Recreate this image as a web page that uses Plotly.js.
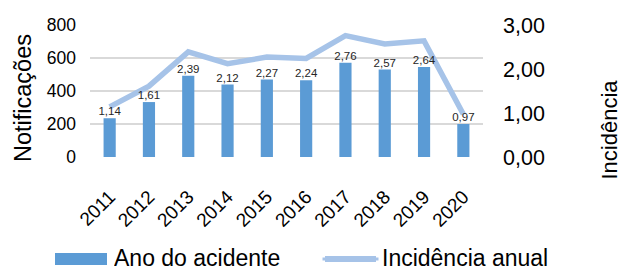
<!DOCTYPE html>
<html>
<head>
<meta charset="utf-8">
<script src="https://cdn.plot.ly/plotly-3.0.1.min.js"></script>
<style>html,body{margin:0;padding:0;background:#fff;}#chart{width:622px;height:270px;}</style>
</head>
<body>
<div id="chart"></div>
<script>
var years = ['2011','2012','2013','2014','2015','2016','2017','2018','2019','2020'];
var notificacoes = [235, 333, 493, 439, 469, 465, 571, 531, 545, 200];
var incidencia = [1.14, 1.61, 2.39, 2.12, 2.27, 2.24, 2.76, 2.57, 2.64, 0.97];
var leftTicks = [0, 200, 400, 600, 800];
var rightTicks = [0, 1, 2, 3];
var seriesNames = ['Ano do acidente', 'Incidência anual'];
var axisTitles = ['Notificações', 'Incidência'];

var FONT = 'Liberation Sans, Arial, sans-serif';
var BAR = '#5b9bd5';
var LINE = '#a6c3e8';

function fmt(v){ return v.toFixed(2).replace('.', ','); }

var traces = [
  {
    type: 'bar', x: years, y: notificacoes, name: seriesNames[0],
    marker: {color: BAR}, hoverinfo: 'none', showlegend: false
  },
  {
    type: 'scatter', mode: 'lines', x: years, y: incidencia, name: seriesNames[1],
    yaxis: 'y2', line: {color: LINE, width: 5.5},
    hoverinfo: 'none', showlegend: false
  },
  {
    type: 'scatter', mode: 'text', x: years, y: notificacoes, yaxis: 'y3',
    text: incidencia.map(fmt), textposition: 'top center',
    textfont: {family: FONT, size: 11.5, color: '#262626'},
    cliponaxis: false, hoverinfo: 'none', showlegend: false
  }
];

var L = 90, R = 139, T = 25, B = 113;
var W = 622 - L - R, H = 270 - T - B;
function px(x){ return (x - L) / W; }
function py(y){ return (270 - B - y) / H; }

var layout = {
  width: 622, height: 270,
  margin: {l: L, r: R, t: T, b: B, pad: 0},
  paper_bgcolor: '#fff', plot_bgcolor: '#fff',
  separators: ',.',
  font: {family: FONT, color: '#000'},
  bargap: 0.69,
  showlegend: false,
  xaxis: {
    type: 'category', tickangle: -45, tickfont: {size: 19, family: FONT, color: '#000'},
    showgrid: false, showline: false, zeroline: false, ticks: '',
    ticklabelstandoff: 24, fixedrange: true
  },
  yaxis: {
    range: [0, 800], tickvals: leftTicks, ticktext: leftTicks.map(String),
    tickfont: {size: 17.5, family: FONT, color: '#000'},
    showgrid: true, gridcolor: '#d9d9d9', gridwidth: 1.6,
    zeroline: false, showline: false, ticks: '', ticklabelstandoff: 13, fixedrange: true
  },
  yaxis2: {
    overlaying: 'y', side: 'right', range: [0, 3], tickvals: rightTicks,
    ticktext: rightTicks.map(fmt),
    tickfont: {size: 21.5, family: FONT, color: '#000'},
    showgrid: false, zeroline: false, showline: false, ticks: '', ticklabelstandoff: 19, fixedrange: true
  },
  yaxis3: {
    overlaying: 'y', range: [0, 800], visible: false, fixedrange: true
  },
  shapes: [
    {type: 'rect', xref: 'paper', yref: 'paper', x0: px(55), x1: px(107), y0: py(265), y1: py(253),
     fillcolor: BAR, line: {width: 0}},
    {type: 'line', xref: 'paper', yref: 'paper', x0: px(325), x1: px(376), y0: py(259), y1: py(259),
     line: {color: LINE, width: 6}},
    {type: 'line', xref: 'paper', yref: 'paper', x0: px(322.5), x1: px(325.5), y0: py(259), y1: py(259),
     line: {color: LINE, width: 3}},
    {type: 'line', xref: 'paper', yref: 'paper', x0: px(375.5), x1: px(378.5), y0: py(259), y1: py(259),
     line: {color: LINE, width: 3}}
  ],
  annotations: [
    {xref: 'paper', yref: 'paper', x: px(23), y: py(98), text: axisTitles[0], textangle: -90,
     showarrow: false, xanchor: 'center', yanchor: 'middle', font: {size: 23.5, family: FONT, color: '#000'}},
    {xref: 'paper', yref: 'paper', x: px(609), y: py(129.5), text: axisTitles[1], textangle: -90,
     height: 21, valign: 'middle',
     showarrow: false, xanchor: 'center', yanchor: 'middle', font: {size: 22, family: FONT, color: '#000'}},
    {xref: 'paper', yref: 'paper', x: px(112), y: py(257.5), text: seriesNames[0], height: 21, valign: 'middle',
     showarrow: false, xanchor: 'left', yanchor: 'middle', font: {size: 23, family: FONT, color: '#000'}},
    {xref: 'paper', yref: 'paper', x: px(380), y: py(257.5), text: seriesNames[1], height: 21, valign: 'middle',
     showarrow: false, xanchor: 'left', yanchor: 'middle', font: {size: 23, family: FONT, color: '#000'}}
  ]
};

Plotly.newPlot('chart', traces, layout, {staticPlot: true, displayModeBar: false});
</script>
</body>
</html>
